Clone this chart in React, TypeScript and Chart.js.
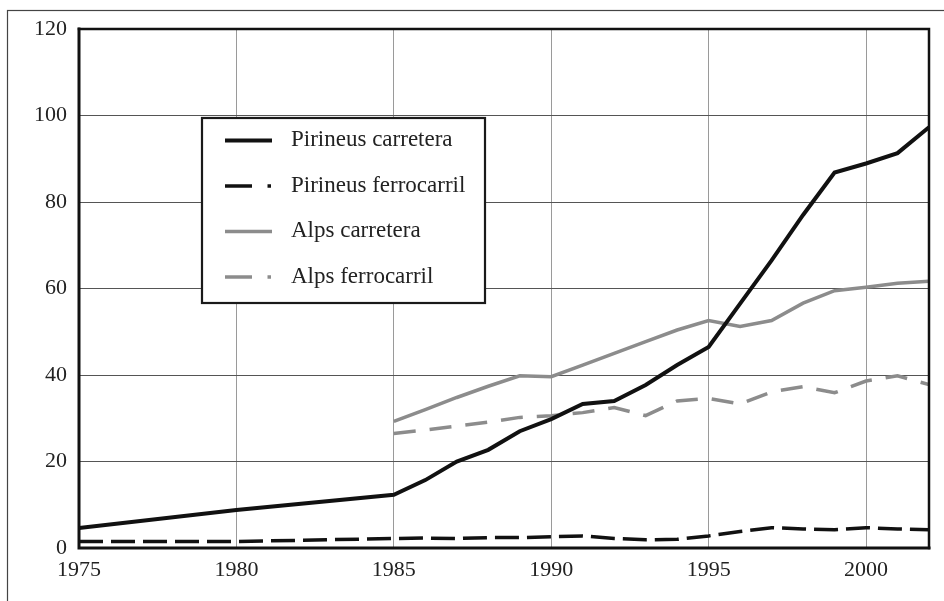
import React, { useEffect, useRef } from "react";
import { Chart, registerables } from "chart.js";

Chart.register(...registerables);

const years = [1975, 1980, 1985, 1986, 1987, 1988, 1989, 1990, 1991, 1992, 1993, 1994, 1995, 1996, 1997, 1998, 1999, 2000, 2001, 2002];
const pirineusCarretera = [4.6, 8.8, 12.3, 15.7, 20, 22.7, 27, 29.8, 33.3, 34, 37.7, 42.3, 46.5, 56.5, 66.5, 77, 86.8, 88.9, 91.3, 97.3];
const pirineusFerrocarril = [1.5, 1.5, 2.2, 2.3, 2.2, 2.4, 2.4, 2.6, 2.8, 2.2, 1.9, 2.0, 2.8, 3.8, 4.7, 4.4, 4.2, 4.7, 4.4, 4.2];
const alpsCarretera = [null, null, 29.3, 32, 34.8, 37.4, 39.8, 39.6, 42.3, 45, 47.7, 50.4, 52.6, 51.2, 52.6, 56.6, 59.5, 60.3, 61.2, 61.7];
const alpsFerrocarril = [null, null, 26.5, 27.3, 28.2, 29.1, 30.2, 30.6, 31.3, 32.5, 30.6, 34, 34.6, 33.3, 36.1, 37.3, 35.9, 38.6, 39.8, 37.8];
const seriesLabels = ["Pirineus carretera", "Pirineus ferrocarril", "Alps carretera", "Alps ferrocarril"];
const xTickValues = [1975, 1980, 1985, 1990, 1995, 2000];
const yTickValues = [0, 20, 40, 60, 80, 100, 120];
const xMin = 1975;
const xMax = 2002;
const yMin = 0;
const yMax = 120;

const FONT = "'Liberation Serif', 'DejaVu Serif', serif";
const BLACK = "#111111";
const GRAY = "#8c8c8c";

function toPoints(vals: (number | null)[]) {
  return years.map((x, i) => ({ x, y: vals[i] }));
}

const framePlugin = {
  id: "framePlugin",
  beforeDraw(chart: any) {
    const ctx = chart.ctx;
    ctx.save();
    ctx.fillStyle = "#ffffff";
    ctx.fillRect(0, 0, chart.width, chart.height);
    ctx.strokeStyle = "#444444";
    ctx.lineWidth = 1.2;
    ctx.strokeRect(7.5, 10.5, chart.width + 10, chart.height + 10);
    ctx.restore();
  },
  afterDraw(chart: any) {
    const ctx = chart.ctx;
    const a = chart.chartArea;
    ctx.save();
    ctx.strokeStyle = "#111111";
    ctx.lineCap = "square";
    ctx.lineWidth = 2.5;
    ctx.beginPath();
    ctx.moveTo(a.left, a.top);
    ctx.lineTo(a.right, a.top);
    ctx.lineTo(a.right, a.bottom);
    ctx.stroke();
    ctx.lineWidth = 3;
    ctx.beginPath();
    ctx.moveTo(a.left, a.top);
    ctx.lineTo(a.left, a.bottom);
    ctx.lineTo(a.right, a.bottom);
    ctx.stroke();

    // legend box
    const bx = 202, by = 118, bw = 283, bh = 185;
    ctx.fillStyle = "#ffffff";
    ctx.fillRect(bx, by, bw, bh);
    ctx.lineWidth = 2.2;
    ctx.strokeStyle = "#1a1a1a";
    ctx.strokeRect(bx, by, bw, bh);
    const rowY = [140.5, 186, 231.5, 277];
    chart.data.datasets.forEach((ds: any, i: number) => {
      const y = rowY[i];
      ctx.save();
      ctx.strokeStyle = ds.borderColor;
      ctx.lineWidth = ds.borderWidth;
      ctx.lineCap = "butt";
      if (ds.borderDash && ds.borderDash.length) {
        ctx.beginPath();
        ctx.moveTo(225, y);
        ctx.lineTo(252, y);
        ctx.stroke();
        ctx.beginPath();
        ctx.moveTo(267.5, y);
        ctx.lineTo(271, y);
        ctx.stroke();
      } else {
        ctx.beginPath();
        ctx.moveTo(225, y);
        ctx.lineTo(272, y);
        ctx.stroke();
      }
      ctx.restore();
      ctx.fillStyle = "#222222";
      ctx.font = `23px ${FONT}`;
      ctx.textBaseline = "alphabetic";
      ctx.textAlign = "left";
      ctx.fillText(ds.label, 291, y + 5.5);
    });
    ctx.restore();
  },
};

export default function App() {
  const ref = useRef<HTMLCanvasElement | null>(null);
  useEffect(() => {
    if (!ref.current) return;
    const chart = new Chart(ref.current, {
      type: "line",
      data: {
        datasets: [
          { label: seriesLabels[0], data: toPoints(pirineusCarretera), borderColor: BLACK, borderWidth: 4, pointRadius: 0, tension: 0 },
          { label: seriesLabels[1], data: toPoints(pirineusFerrocarril), borderColor: BLACK, borderWidth: 3.5, borderDash: [24, 8], pointRadius: 0, tension: 0 },
          { label: seriesLabels[2], data: toPoints(alpsCarretera), borderColor: GRAY, borderWidth: 3.5, pointRadius: 0, tension: 0 },
          { label: seriesLabels[3], data: toPoints(alpsFerrocarril), borderColor: GRAY, borderWidth: 3.5, borderDash: [22, 14], pointRadius: 0, tension: 0 },
        ],
      },
      options: {
        animation: false,
        responsive: false,
        layout: { padding: { top: 29, right: 15, left: 0, bottom: 0 } },
        plugins: { legend: { display: false }, tooltip: { enabled: false } },
        scales: {
          x: {
            type: "linear",
            min: xMin,
            max: xMax,
            afterBuildTicks: (s: any) => {
              s.ticks = xTickValues.map((v) => ({ value: v }));
            },
            afterFit: (s: any) => {
              s.height = 53;
              s.paddingRight = 0;
              s.paddingLeft = 0;
            },
            ticks: {
              padding: 9,
              color: "#222222",
              font: { family: FONT, size: 22 },
              callback: (v: any) => String(v),
              maxRotation: 0,
              autoSkip: false,
            },
            grid: { color: "#9a9a9a", lineWidth: 1, drawTicks: false },
            border: { display: false },
          },
          y: {
            min: yMin,
            max: yMax,
            afterBuildTicks: (s: any) => {
              s.ticks = yTickValues.map((v) => ({ value: v }));
            },
            afterFit: (s: any) => {
              s.width = 79;
            },
            ticks: {
              padding: 12,
              color: "#222222",
              font: { family: FONT, size: 22 },
            },
            grid: { color: "#555555", lineWidth: 1, drawTicks: false },
            border: { display: false },
          },
        },
      },
      plugins: [framePlugin],
    });
    return () => chart.destroy();
  }, []);
  return (
    <div style={{ position: "fixed", left: 0, top: 0, width: 944, height: 601, background: "#fff" }}>
      <canvas ref={ref} width={944} height={601} />
    </div>
  );
}
